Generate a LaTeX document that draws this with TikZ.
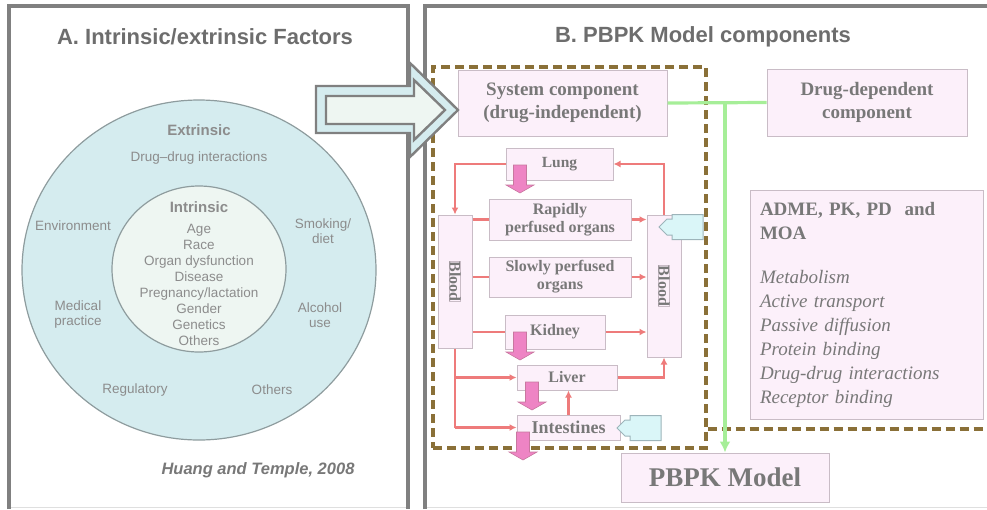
\documentclass[tikz,border=0pt]{standalone}
\usepackage{fontspec}
\setmainfont{Liberation Serif}
\setsansfont{Liberation Sans}
\usetikzlibrary{shapes.geometric,arrows.meta}
\definecolor{framegray}{HTML}{808080}
\definecolor{titlegray}{HTML}{6D6D6D}
\definecolor{ringgray}{HTML}{8E9C9E}
\definecolor{ringblue}{HTML}{D5ECEF}
\definecolor{corefill}{HTML}{EEF6F2}
\definecolor{factorgray}{HTML}{8C8C8C}
\definecolor{organfill}{HTML}{FCF0FA}
\definecolor{organdraw}{HTML}{C9BCC6}
\definecolor{organtext}{HTML}{787878}
\definecolor{flowred}{HTML}{EE7B7B}
\definecolor{blockpink}{HTML}{EE84C4}
\definecolor{blockpinkdraw}{HTML}{C8779F}
\definecolor{inputcyan}{HTML}{DAF6F8}
\definecolor{inputcyandraw}{HTML}{9DB4BA}
\definecolor{linkgreen}{HTML}{A6EE98}
\definecolor{dashbrown}{HTML}{8A7038}
\tikzset{
		% Panels, titles and the two factor rings
		panel frame/.style={draw=framegray,line width=3.2pt},
		panel title/.style={font=\sffamily\bfseries\fontsize{22}{26}\selectfont,text=titlegray},
		outer ring/.style={ellipse,draw=ringgray,fill=ringblue,line width=1.2pt,minimum width=354,minimum height=340},
		inner ring/.style={ellipse,draw=ringgray,fill=corefill,line width=1.2pt,minimum width=174,minimum height=166},
		factor text/.style={font=\sffamily\fontsize{13.5}{15}\selectfont,text=factorgray,align=center},
		factor head/.style={font=\sffamily\bfseries\fontsize{15}{16}\selectfont,text=factorgray},
		% Boxes of the PBPK part
		organ node/.style={rectangle,draw=organdraw,fill=organfill,line width=1pt,
			font=\bfseries\fontsize{16}{18}\selectfont,text=organtext,align=center,inner sep=0},
		blood node/.style={organ node,minimum width=34},
		big node/.style={organ node,font=\bfseries\fontsize{19}{23}\selectfont},
		sys frame/.style={rectangle,draw=dashbrown,line width=3.2pt,dash pattern=on 9pt off 5pt},
		% Connectors
		red flow/.style={draw=flowred,line width=2.2pt,-{Latex[length=7pt,width=7pt]}},
		red line/.style={draw=flowred,line width=2.2pt},
		green flow/.style={draw=linkgreen,line width=3.2pt},
		% Block arrows
		big arrow/.style={draw=framegray,line width=2.4pt,fill=ringblue},
		big arrow core/.style={draw=framegray,line width=2.4pt,fill=corefill},
		drain/.pic={\filldraw[fill=blockpink,draw=blockpinkdraw,line width=0.6pt]
			(-6.5,0) -- (6.5,0) -- (6.5,20) -- (14,20) -- (0,28) -- (-14,20) -- (-6.5,20) -- cycle;},
		dose/.pic={\filldraw[fill=inputcyan,draw=inputcyandraw,line width=1pt]
			(0,0) -- (8,-8) -- (13,-8) -- (13,-12.5) -- (44,-12.5) -- (44,12.5) -- (13,12.5) -- (13,8) -- (8,8) -- cycle;}
	}
\begin{document}
\begin{tikzpicture}
		[
			x=1pt,y=-1pt,
			every node/.style={inner sep=0}
		]
		\useasboundingbox (0,0) rectangle (987,509);
		% panel A
		\draw[framegray!25,line width=1pt] (9,507) -- (408,507) (425,507) -- (987,507);
		\draw[panel frame] (9,509) -- (9,6) -- (408,6) -- (408,509);
		\node[panel title] (title-A) at (205,37) {A. Intrinsic/extrinsic Factors};
		\node[outer ring] (extrinsic-ring) at (199,270) {};
		\node[inner ring] (intrinsic-ring) at (199,269) {};
		\node[factor head] (extrinsic-head) at (199,130) {Extrinsic};
		\node[factor text] (ddi) at (199,158) {Drug--drug interactions};
		\node[factor text] (environment) at (73,226) {Environment};
		\node[factor text] (smoking) at (323,231) {Smoking/\\diet};
		\node[factor text] (medical) at (78,315) {Medical\\practice};
		\node[factor text] (alcohol) at (320,315) {Alcohol\\use};
		\node[factor text] (regulatory) at (135,390) {Regulatory};
		\node[factor text] (others-ext) at (272,390) {Others};
		\node[factor head] (intrinsic-head) at (199,207) {Intrinsic};
		\node[factor text,font=\sffamily\fontsize{13.5}{16}\selectfont] (intrinsic-list) at (199,285)
			{Age\\Race\\Organ dysfunction\\Disease\\Pregnancy/lactation\\Gender\\Genetics\\Others};
		\node[font=\sffamily\bfseries\itshape\fontsize{16.5}{18}\selectfont,text=organtext] (citation) at (258,470)
			{Huang and Temple, 2008};
		% panel B
		\draw[panel frame] (425,509) -- (425,6) -- (987,6);
		\node[panel title] (title-B) at (703,37) {B. PBPK Model components};
		\node[sys frame,minimum width=273,minimum height=381] (sys-frame) at (569.5,257.5) {};
		\coordinate (dash-end) at (987,429);
		\draw[sys frame] (dash-end -| sys-frame.east) -- (dash-end);
		\node[big node,minimum width=209,minimum height=66] (sys) at (562.5,103) {System component\\(drug-independent)};
		\node[big node,minimum width=200,minimum height=67] (drugdep) at (867,102.5) {Drug-dependent\\component};
		\node[big node,minimum width=233,minimum height=229,text width=213,align=left,font=\fontsize{19}{24}\selectfont] (adme) at (866.5,304.5)
			{\textbf{ADME, PK, PD\ \ and}\\\textbf{MOA}\\[20pt]\itshape Metabolism\\\itshape Active transport\\\itshape Passive diffusion\\
			\itshape Protein binding\\\itshape Drug-drug interactions\\\itshape Receptor binding};
		\node[organ node,minimum width=208,minimum height=49,font=\bfseries\fontsize{27}{30}\selectfont] (pbpk) at (725,477.5) {PBPK Model};
		% organs
		\node[organ node,minimum width=107,minimum height=32,font=\bfseries\fontsize{15.5}{18}\selectfont] (lung) at (559.5,164) {Lung};
		\node[organ node,minimum width=142,minimum height=41] (rapid) at (560,219.5) {Rapidly\\perfused organs};
		\node[organ node,minimum width=142,minimum height=40] (slow) at (560,277) {Slowly perfused\\organs};
		\node[blood node,minimum height=133] (blood-L) at (455,281.5) {};
		\node[blood node,minimum height=142] (blood-R) at (664,286) {};
		\node[organ node,rotate=-90] (blood-L-label) at (blood-L) {Blood};
		\node[organ node,rotate=-90] (blood-R-label) at (blood-R) {Blood};
		\node[organ node,minimum width=100,minimum height=34] (kidney) at (555,332) {Kidney};
		\node[organ node,minimum width=100,minimum height=25] (liver) at (567,377.5) {Liver};
		\node[organ node,minimum width=103,minimum height=25,font=\bfseries\fontsize{18}{20}\selectfont] (intest) at (568.5,427.5) {Intestines};
		% blood flow
		\draw[red flow] (lung.west) -| (blood-L.north);
		\draw[red flow] (blood-R.north) |- (lung.east);
		\foreach \organ in {rapid,slow,kidney}{
			\draw[red line] (\organ.west -| blood-L.east) -- (\organ.west);
			\draw[red flow] (\organ.east) -- (\organ.east -| blood-R.west);
		}
		\draw[red line] (blood-L.south) -- (blood-L.south |- intest.west);
		\draw[red flow] (blood-L.south |- liver.west) -- (liver.west);
		\draw[red flow] (blood-L.south |- intest.west) -- (intest.west);
		\draw[red flow] (liver.east) -| (blood-R.south);
		\draw[red flow] (intest.north) -- (intest.north |- liver.south);
		% elimination and input
		\pic (lung-out) at (520,165) {drain};
		\pic (kidney-out) at (520,332) {drain};
		\pic (liver-out) at (532,382) {drain};
		\pic (intest-out) at (523,432) {drain};
		\pic (iv-in) at (659,227) {dose};
		\pic (oral-in) at (617,428) {dose};
		% drug-dependent link
		\draw[green flow] (sys.east) -- (drugdep.west);
		\draw[green flow,-{Latex[length=11pt,width=11pt]}] (sys.east -| pbpk.north) -- (pbpk.north);
		% arrow from A to B
		\filldraw[big arrow] (316,86) -- (410,86) -- (410,63) -- (458,110) -- (410,157) -- (410,133) -- (316,133) -- cycle;
		\filldraw[big arrow core] (326,96) -- (414,96) -- (414,80) -- (445,110) -- (414,140) -- (414,124) -- (326,124) -- cycle;
	\end{tikzpicture}
\end{document}
